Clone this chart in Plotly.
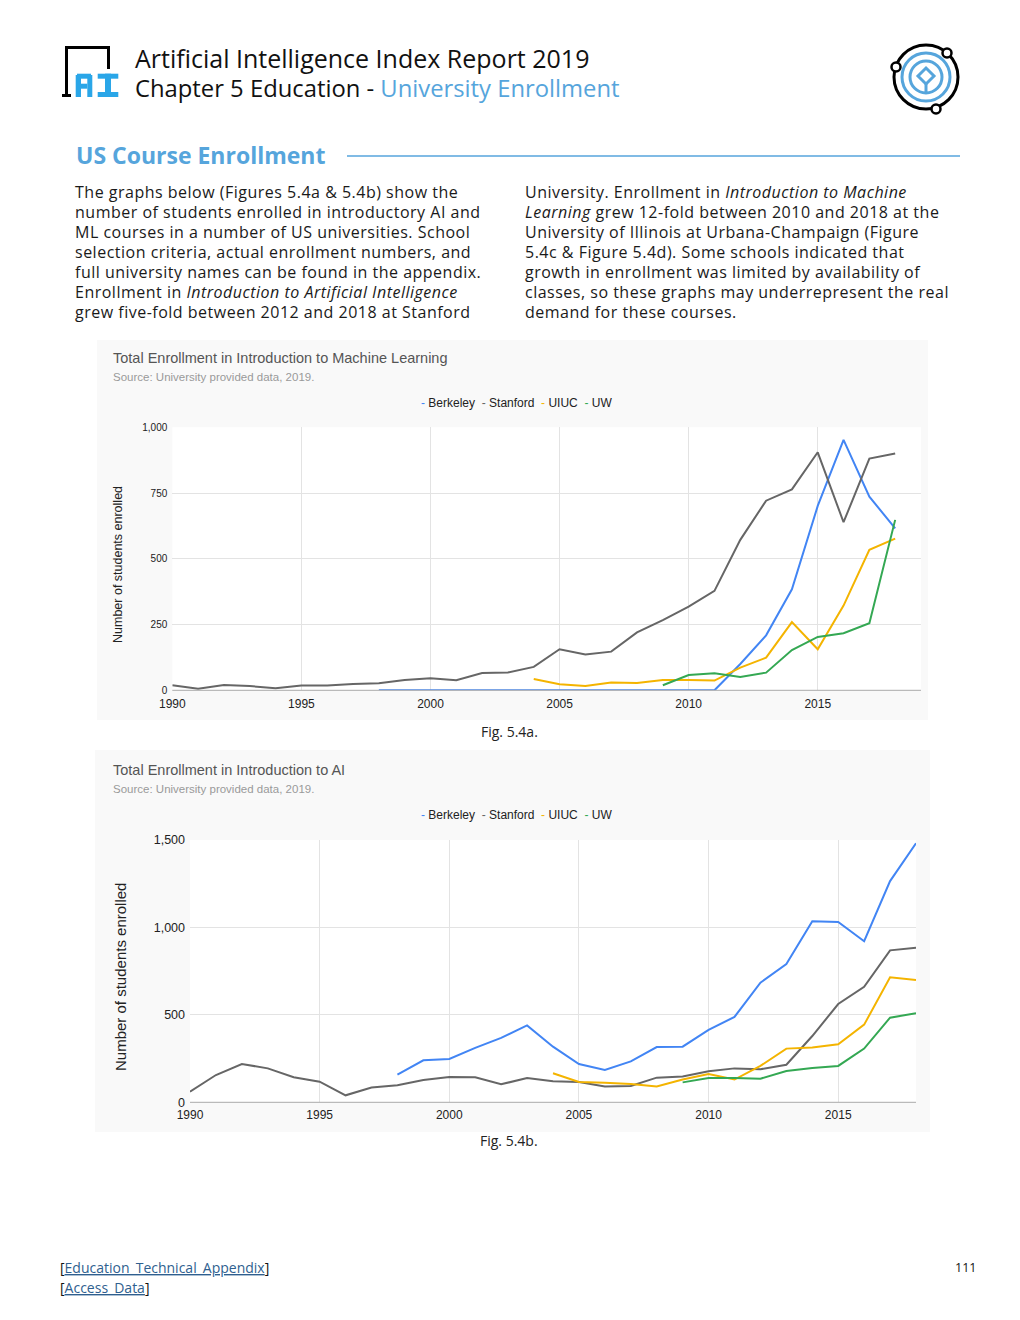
import plotly.graph_objects as go

W, H = 1020, 1320

def px(x):
    return x / W

def py(y):
    return 1 - y / H

# ---------------- data ----------------
universities = ["Berkeley", "Stanford", "UIUC", "UW"]
colors = {"Berkeley": "#4285F4", "Stanford": "#666666", "UIUC": "#F4B400", "UW": "#34A853"}

# Fig 5.4a  Introduction to Machine Learning
ml_berkeley_years = list(range(1998, 2019))
ml_berkeley = [0, 0, 0, 0, 0, 0, 0, 0, 0, 0, 0, 0, 0, 0, 100, 209, 384, 701, 952, 736, 616]
ml_stanford_years = list(range(1990, 2019))
ml_stanford = [19, 6, 20, 16, 8, 18, 18, 24, 27, 39,
               46, 38, 66, 68, 89, 156, 136, 147, 220, 267,
               318, 378, 572, 721, 764, 905, 639, 881, 900]
ml_uiuc_years = list(range(2004, 2019))
ml_uiuc = [43, 23, 16, 30, 28, 39, 39, 37, 86, 124, 259, 156, 322, 534, 577]
ml_uw_years = list(range(2009, 2019))
ml_uw = [19, 58, 65, 51, 67, 153, 203, 217, 255, 648]

# Fig 5.4b  Introduction to AI
ai_berkeley_years = list(range(1998, 2019))
ai_berkeley = [158, 240, 248, 311, 368, 440, 318, 219, 185, 234, 316, 318,
               414, 488, 684, 791, 1035, 1031, 921, 1265, 1481]
ai_stanford_years = list(range(1990, 2019))
ai_stanford = [61, 156, 219, 194, 143, 118, 40, 84, 97, 128,
               145, 143, 103, 139, 120, 116, 90, 93, 141, 147,
               177, 194, 189, 215, 379, 562, 661, 869, 884]
ai_uiuc_years = list(range(2004, 2019))
ai_uiuc = [166, 116, 112, 105, 90, 130, 162, 130, 208, 307, 314, 332, 444, 715, 699]
ai_uw_years = list(range(2009, 2019))
ai_uw = [114, 139, 139, 135, 179, 196, 208, 307, 484, 509]

ml_series = {
    "Berkeley": (ml_berkeley_years, ml_berkeley),
    "Stanford": (ml_stanford_years, ml_stanford),
    "UIUC": (ml_uiuc_years, ml_uiuc),
    "UW": (ml_uw_years, ml_uw),
}
ai_series = {
    "Berkeley": (ai_berkeley_years, ai_berkeley),
    "Stanford": (ai_stanford_years, ai_stanford),
    "UIUC": (ai_uiuc_years, ai_uiuc),
    "UW": (ai_uw_years, ai_uw),
}

# ---------------- text ----------------
left_lines = [
    "The graphs below (Figures 5.4a &amp; 5.4b) show the",
    "number of students enrolled in introductory AI and",
    "ML courses in a number of US universities. School",
    "selection criteria, actual enrollment numbers, and",
    "full university names can be found in the appendix.",
    "Enrollment in <i>Introduction to Artificial Intelligence</i>",
    "grew five-fold between 2012 and 2018 at Stanford",
]
right_lines = [
    "University. Enrollment in <i>Introduction to Machine</i>",
    "<i>Learning</i> grew 12-fold between 2010 and 2018 at the",
    "University of Illinois at Urbana-Champaign (Figure",
    "5.4c &amp; Figure 5.4d). Some schools indicated that",
    "growth in enrollment was limited by availability of",
    "classes, so these graphs may underrepresent the real",
    "demand for these courses.",
]

BLUE = "#56A5DC"
LOGO_BLUE = "#2AA6E8"
PAGE_FONT = "Open Sans"
CHART_FONT = "Liberation Sans, Arial, sans-serif"

fig = go.Figure()

for name in universities:
    xs, ys = ml_series[name]
    fig.add_trace(go.Scatter(x=xs, y=ys, mode="lines", name=name,
                             line=dict(color=colors[name], width=2),
                             xaxis="x", yaxis="y", showlegend=False, hoverinfo="skip"))
for name in universities:
    xs, ys = ai_series[name]
    fig.add_trace(go.Scatter(x=xs, y=ys, mode="lines", name=name,
                             line=dict(color=colors[name], width=2),
                             xaxis="x2", yaxis="y2", showlegend=False, hoverinfo="skip"))

axis_common = dict(showgrid=True, gridcolor="#e3e3e3", gridwidth=1, zeroline=False,
                   ticks="", showline=False, fixedrange=True, automargin=False)

fig.update_layout(
    template="none",
    width=W, height=H, autosize=False,
    margin=dict(l=0, r=0, t=0, b=0, pad=0, autoexpand=False),
    paper_bgcolor="white", plot_bgcolor="rgba(255,255,255,0)",
    showlegend=False,
    xaxis=dict(domain=[px(172.3), px(921)], range=[1990, 2019], tick0=1990, dtick=5,
               anchor="y", ticklabelstandoff=5,
               tickfont=dict(family=CHART_FONT, size=12, color="#222"), **axis_common),
    yaxis=dict(domain=[py(690.3), py(427.3)], range=[0, 1000], tick0=0, dtick=250,
               tickformat=",", anchor="x", ticklabelstandoff=4,
               tickfont=dict(family=CHART_FONT, size=10, color="#222"), **axis_common),
    xaxis2=dict(domain=[px(190), px(916)], range=[1990, 2018], tick0=1990, dtick=5,
                anchor="y2", ticklabelstandoff=4,
                tickfont=dict(family=CHART_FONT, size=12, color="#222"), **axis_common),
    yaxis2=dict(domain=[py(1102.3), py(840)], range=[0, 1500], tick0=0, dtick=500,
                tickformat=",", anchor="x2", ticklabelstandoff=4,
                tickfont=dict(family=CHART_FONT, size=12.5, color="#222"), **axis_common),
)

shapes = []
def rect(x0, y0, x1, y1, fill, layer="above"):
    return dict(type="rect", xref="paper", yref="paper", x0=px(x0), x1=px(x1),
                y0=py(y1), y1=py(y0), fillcolor=fill, line=dict(width=0), layer=layer)

# chart card backgrounds
shapes.append(rect(97, 340, 928, 720, "#f9f9f9", "below"))
shapes.append(rect(95, 750, 930, 1132, "#f9f9f9", "below"))
# plot area fills
shapes.append(rect(172.3, 427.3, 921, 690.3, "white", "below"))
shapes.append(rect(190, 840, 916, 1102.3, "white", "below"))
# baselines
shapes.append(dict(type="line", xref="paper", yref="paper", x0=px(172.3), x1=px(921),
                   y0=py(690.3), y1=py(690.3), line=dict(color="#aaaaaa", width=1)))
shapes.append(dict(type="line", xref="paper", yref="paper", x0=px(190), x1=px(916),
                   y0=py(1102.3), y1=py(1102.3), line=dict(color="#aaaaaa", width=1)))
# section rule
shapes.append(dict(type="line", xref="paper", yref="paper", x0=px(347), x1=px(960),
                   y0=py(156), y1=py(156), line=dict(color=BLUE, width=1.5)))

# left logo: black bracket
shapes.append(rect(65, 46, 110, 49, "black"))
shapes.append(rect(65, 46, 68, 97, "black"))
shapes.append(rect(107, 46, 110, 69, "black"))
shapes.append(rect(62, 94, 71, 97, "black"))
# left logo: blocky "AI"
shapes.append(rect(77, 73.7, 91, 78.7, LOGO_BLUE))
shapes.append(rect(75.7, 75, 81, 97, LOGO_BLUE))
shapes.append(rect(87.3, 75, 92.3, 97, LOGO_BLUE))
shapes.append(rect(81, 83.7, 87.3, 88.7, LOGO_BLUE))
shapes.append(rect(97.7, 73.7, 118.3, 78.7, LOGO_BLUE))
shapes.append(rect(105, 73.7, 111, 97, LOGO_BLUE))
shapes.append(rect(97.7, 92, 118.3, 97, LOGO_BLUE))

# right logo
cx, cy = 926, 77
def circ(r, color, width, fill="rgba(0,0,0,0)", c=(cx, cy)):
    return dict(type="circle", xref="paper", yref="paper",
                x0=px(c[0] - r), x1=px(c[0] + r), y0=py(c[1] + r), y1=py(c[1] - r),
                line=dict(color=color, width=width), fillcolor=fill)
shapes.append(circ(32, "black", 3))
shapes.append(circ(24, BLUE, 3))
shapes.append(circ(16, BLUE, 3))
shapes.append(dict(type="path", xref="paper", yref="paper",
                   path=f"M {px(cx)} {py(cy-9)} L {px(cx+8)} {py(cy-1)} L {px(cx)} {py(cy+7)} L {px(cx-8)} {py(cy-1)} Z",
                   line=dict(color=BLUE, width=3)))
shapes.append(dict(type="line", xref="paper", yref="paper", x0=px(cx), x1=px(cx),
                   y0=py(cy+7), y1=py(cy+16), line=dict(color=BLUE, width=3)))
for c in [(947, 53), (896, 67), (936, 109)]:
    shapes.append(circ(4.5, "black", 2.5, fill="white", c=c))

fig.update_layout(shapes=shapes)

ann = []
def text(x, y, s, size, color="#111", family=PAGE_FONT, xanchor="left"):
    ann.append(dict(x=px(x), y=py(y), xref="paper", yref="paper", text=s, showarrow=False,
                    xanchor=xanchor, yanchor="middle", align=xanchor if xanchor != "center" else "center",
                    borderpad=0, font=dict(family=family, size=size, color=color)))

# header
text(134, 58, "Artificial Intelligence Index Report 2019", 25)
text(134, 88, f"Chapter 5 Education - <span style='color:{BLUE}'>University Enrollment</span>", 23.8)
text(75, 155, "<b>US Course Enrollment</b>", 23, color=BLUE)
SPACED = "<span style='letter-spacing:0.5px'>{}</span>"
for i, s in enumerate(left_lines):
    text(74, 192 + 20 * i, SPACED.format(s), 16, color="#1a1a1a")
for i, s in enumerate(right_lines):
    text(524, 192 + 20 * i, SPACED.format(s), 16, color="#1a1a1a")

# chart 1 texts
text(112, 358, "Total Enrollment in Introduction to Machine Learning", 14.5, color="#555", family=CHART_FONT)
text(112, 377, "Source: University provided data, 2019.", 11.5, color="#999", family=CHART_FONT)
legend = "  ".join(f"<span style='color:{colors[n]}'>-</span> {n}" for n in universities)
text(516, 403, legend, 12, color="#222", family=CHART_FONT, xanchor="center")
ann.append(dict(x=px(118), y=py(565), xref="paper", yref="paper", text="Number of students enrolled",
                showarrow=False, textangle=-90, xanchor="center", yanchor="middle",
                font=dict(family=CHART_FONT, size=12.5, color="#222")))
text(509, 731, "Fig. 5.4a.", 14, color="#222", xanchor="center")

# chart 2 texts
text(112, 770, "Total Enrollment in Introduction to AI", 14.5, color="#555", family=CHART_FONT)
text(112, 789, "Source: University provided data, 2019.", 11.5, color="#999", family=CHART_FONT)
text(516, 815, legend, 12, color="#222", family=CHART_FONT, xanchor="center")
ann.append(dict(x=px(120), y=py(977), xref="paper", yref="paper", text="Number of students enrolled",
                showarrow=False, textangle=-90, xanchor="center", yanchor="middle",
                font=dict(family=CHART_FONT, size=15, color="#222")))
text(509, 1140, "Fig. 5.4b.", 14, color="#222", xanchor="center")

# footer
LINK = "#2f5f8f"
text(59, 1267, f"[<span style='color:{LINK}'><u>Education_Technical_Appendix</u></span>]", 14)
text(59, 1287, f"[<span style='color:{LINK}'><u>Access_Data</u></span>]", 14)
text(977, 1267, "111", 12.5, xanchor="right")

fig.update_layout(annotations=ann)

fig.write_html(
    "out.html",
    config={"displayModeBar": False, "staticPlot": True},
    post_script=("var s=document.createElement('style');"
                 "s.innerHTML='html,body{margin:0;padding:0;overflow:hidden;}';"
                 "document.head.appendChild(s);"),
)
